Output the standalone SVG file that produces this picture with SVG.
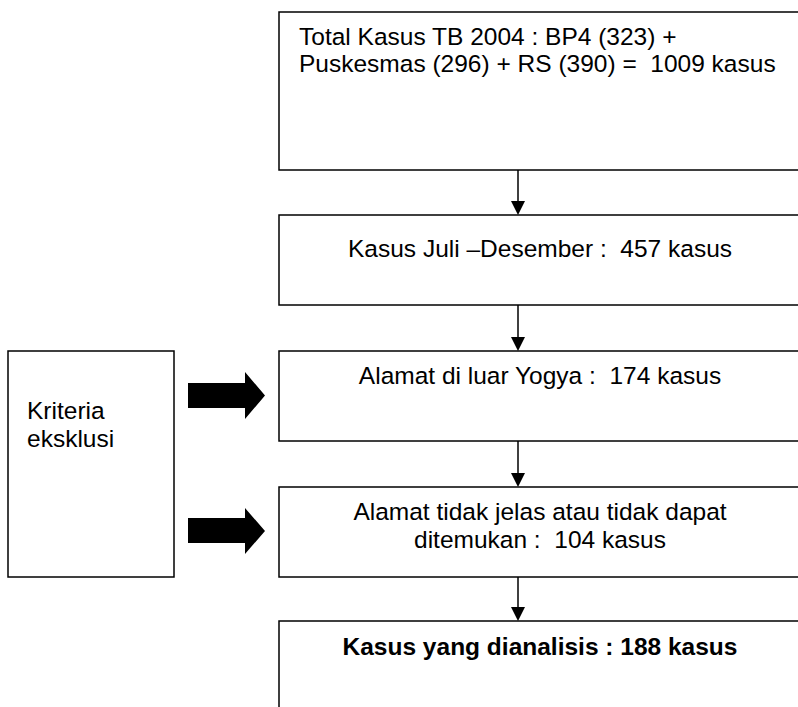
<svg xmlns="http://www.w3.org/2000/svg" width="798" height="707" viewBox="0 0 798 707">
<defs>
<style>
.box{fill:#fff;stroke:#000;stroke-width:1.5}
.t{font-family:"Liberation Sans",Arial,sans-serif;font-size:24.5px;fill:#000}
.c{text-anchor:middle}
.b{font-weight:bold}
.ln{stroke:#000;stroke-width:1.5;fill:none}
</style>
</defs>
<g id="n1"><rect class="box" x="279" y="12" width="540" height="158"/>
<text class="t" x="299" y="45">Total Kasus TB 2004 : BP4 (323) +</text>
<text class="t" x="299" y="72" xml:space="preserve">Puskesmas (296) + RS (390) =  1009 kasus</text></g>
<g id="n2"><rect class="box" x="279" y="215" width="540" height="90"/>
<text class="t c" x="540" y="257" xml:space="preserve">Kasus Juli –Desember :  457 kasus</text></g>
<g id="n3"><rect class="box" x="279" y="351" width="540" height="90"/>
<text class="t c" x="540" y="384" xml:space="preserve">Alamat di luar Yogya :  174 kasus</text></g>
<g id="n4"><rect class="box" x="279" y="487" width="540" height="90"/>
<text class="t c" x="540" y="520">Alamat tidak jelas atau tidak dapat</text>
<text class="t c" x="540" y="548" xml:space="preserve">ditemukan :  104 kasus</text></g>
<g id="n5"><rect class="box" x="279" y="621" width="540" height="120"/>
<text class="t c b" x="540" y="655">Kasus yang dianalisis : 188 kasus</text></g>
<g id="n6"><rect class="box" x="8" y="351" width="166" height="226"/>
<text class="t" x="27" y="419">Kriteria</text>
<text class="t" x="27" y="447">eksklusi</text></g>
<g id="connectors">
<path d="M518,170 V201" class="ln"/><path d="M511,201 H525 L518,215 Z" fill="#000"/>
<path d="M518,305 V337" class="ln"/><path d="M511,337 H525 L518,351 Z" fill="#000"/>
<path d="M518,441 V473" class="ln"/><path d="M511,473 H525 L518,487 Z" fill="#000"/>
<path d="M518,577 V607" class="ln"/><path d="M511,607 H525 L518,621 Z" fill="#000"/>
<path d="M188,383 H245 V372 L265,395.5 L245,419 V408 H188 Z" fill="#000"/>
<path d="M188,518 H245 V508 L265,531 L245,554 V543 H188 Z" fill="#000"/>
</g>
</svg>
